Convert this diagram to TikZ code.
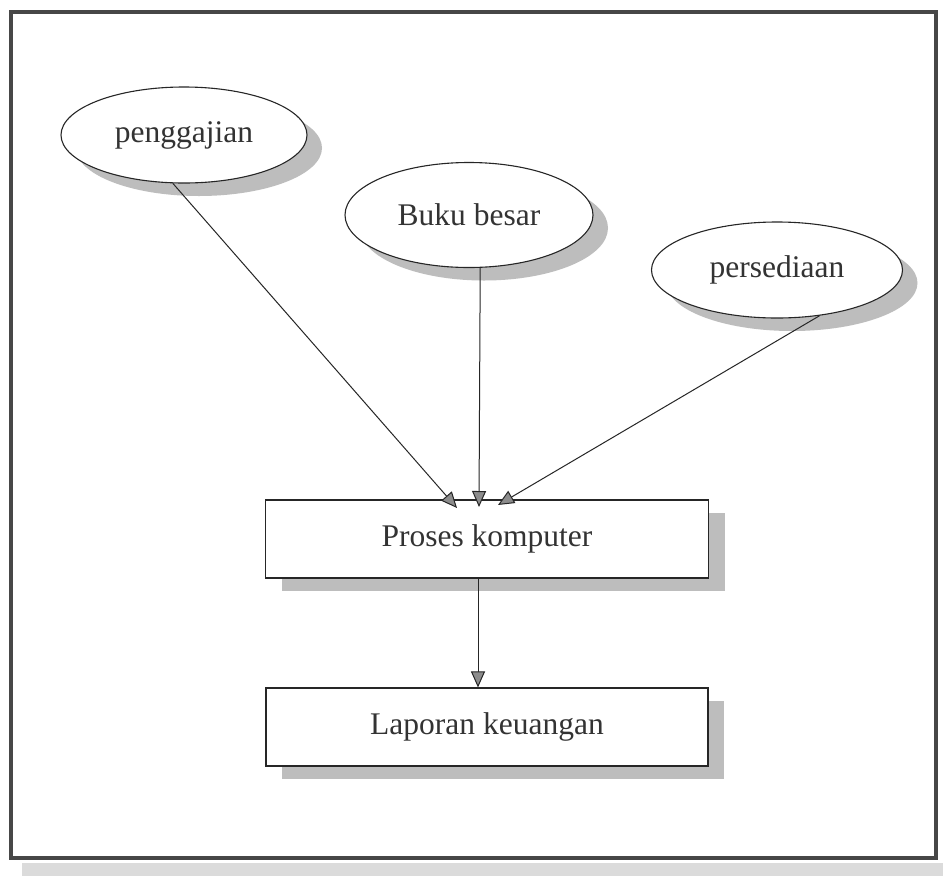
\documentclass[tikz,border=0pt]{standalone}
\usepackage{fontspec}
\setmainfont{Liberation Serif}
\usetikzlibrary{shapes.geometric,shadows,arrows.meta}

\tikzset{
  sys/.style={ellipse, draw=black!85, line width=1.1pt, fill=white, inner sep=0pt,
    text=black!80, font=\fontsize{31.5}{37}\selectfont,
    drop shadow={shadow xshift=15pt, shadow yshift=-13pt, fill=black!26, opacity=1}},
  procbox/.style={rectangle, draw=black!85, line width=1.1pt, fill=white, inner sep=0pt,
    text=black!80, font=\fontsize{31.5}{37}\selectfont,
    drop shadow={shadow xshift=16pt, shadow yshift=-13pt, fill=black!26, opacity=1}},
  flow/.style={draw=black!85, line width=1pt,
    -{Triangle[length=16pt, width=14pt, fill=black!45]}},
  frame/.style={draw=black!72, line width=4pt}
}

\begin{document}
\begin{tikzpicture}[x=1pt, y=-1pt]
  % page area and outer frame
  \fill[white] (0,0) rectangle (943,876);
  \useasboundingbox (0,0) rectangle (943,876);
  \fill[black!14] (22,863) rectangle (943,876);
  \draw[frame] (11,12) rectangle (936,858);

  % source systems
  \node[sys, minimum width=246pt, minimum height=96pt] (pg) at (184,135) {penggajian};
  \node[sys, minimum width=248pt, minimum height=105pt] (bb) at (469,215) {Buku besar};
  \node[sys, minimum width=251pt, minimum height=96pt] (ps) at (777,270) {persediaan};

  % processing and report
  \node[procbox, minimum width=443pt, minimum height=78pt] (pk) at (487,539) {Proses komputer};
  \node[procbox, minimum width=442pt, minimum height=78pt] (lk) at (487,727) {Laporan keuangan};

  % arrow end points on the processing box
  \coordinate (t1) at (457,508);
  \coordinate (t2) at (479,507);
  \coordinate (t3) at (498,505);
  \coordinate (s4) at (478,578);

  \draw[flow] (pg.-103) -- (t1);
  \draw[flow] (bb.-78) -- (t2);
  \draw[flow] (ps.-47) -- (t3);
  \draw[flow] (s4) -- (lk.north -| s4);
\end{tikzpicture}
\end{document}
